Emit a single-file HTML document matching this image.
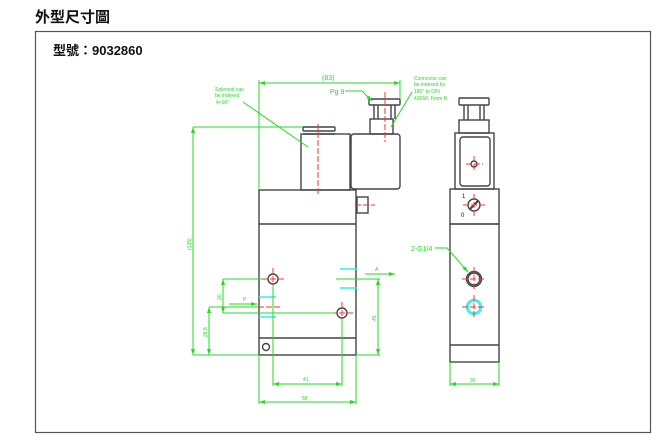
<!DOCTYPE html>
<html><head><meta charset="utf-8"><style>
body{margin:0;background:#fff;width:660px;height:437px;overflow:hidden;font-family:"Liberation Sans","Noto Sans CJK TC",sans-serif}
</style></head><body>
<svg width="660" height="437" xmlns="http://www.w3.org/2000/svg" style="position:absolute;left:0;top:0">
<defs>
<marker id="a" viewBox="0 0 6 4" refX="6" refY="2" markerWidth="6" markerHeight="4" orient="auto-start-reverse" markerUnits="userSpaceOnUse"><path d="M0,0L6,2L0,4z" fill="#2d2"/></marker>
</defs>
<text x="35" y="22" font-size="15" font-weight="bold" fill="#111" font-family="Liberation Sans,Noto Sans CJK TC,sans-serif">外型尺寸圖</text>
<rect x="35.5" y="31.5" width="615" height="401" fill="none" stroke="#555" stroke-width="1.2"/>
<text x="53" y="55" font-size="13" font-weight="bold" fill="#111" font-family="Liberation Sans,Noto Sans CJK TC,sans-serif">型號：9032860</text>

<g fill="none" stroke="#444" stroke-width="1.4">
<rect x="259" y="190" width="97" height="165"/>
<line x1="259" y1="224" x2="356" y2="224"/>
<line x1="259" y1="338" x2="356" y2="338"/>
<rect x="301" y="134" width="49" height="56"/>
<rect x="303" y="127" width="32" height="4" rx="1"/>
<line x1="303" y1="134" x2="335" y2="134"/>
<rect x="351" y="134" width="49" height="55" rx="3"/>
<rect x="370" y="119" width="23" height="15"/>
<rect x="369" y="99" width="31" height="6" rx="1"/>
<line x1="374" y1="105" x2="374" y2="119"/><line x1="378" y1="105" x2="378" y2="119"/>
<line x1="391" y1="105" x2="391" y2="119"/><line x1="395" y1="105" x2="395" y2="119"/>
<rect x="357" y="197" width="11" height="16"/>
<circle cx="273" cy="279" r="5"/>
<circle cx="342" cy="313" r="5"/>
<circle cx="266" cy="347" r="3.5"/>
<rect x="459" y="98" width="30" height="7" rx="1"/>
<line x1="464" y1="105" x2="464" y2="120"/><line x1="468" y1="105" x2="468" y2="120"/>
<line x1="480" y1="105" x2="480" y2="120"/><line x1="484" y1="105" x2="484" y2="120"/>
<rect x="459" y="120" width="30" height="13"/>
<rect x="455" y="133" width="39" height="56"/>
<rect x="460" y="137" width="30" height="49" rx="3"/>
<circle cx="474" cy="164" r="3"/>
<rect x="450" y="189" width="49" height="35"/>
<circle cx="474" cy="205" r="6"/>
<line x1="470" y1="209" x2="478" y2="201" stroke-width="2"/>
<rect x="450" y="224" width="49" height="138"/>
<line x1="450" y1="345" x2="499" y2="345"/>
<circle cx="474" cy="279" r="7.5"/><circle cx="474" cy="279" r="6"/>
</g>
<g fill="none" stroke="#3ee" stroke-width="1.4">
<circle cx="474" cy="307" r="7.5"/><circle cx="474" cy="307" r="6"/>
<line x1="259" y1="297" x2="276" y2="297"/><line x1="259" y1="317" x2="276" y2="317"/>
<line x1="340" y1="269" x2="357" y2="269"/><line x1="340" y1="288" x2="357" y2="288"/>
</g>
<g fill="none" stroke="#f33" stroke-width="1" stroke-dasharray="6,2">
<line x1="318" y1="124" x2="318" y2="196"/>
<line x1="385" y1="92" x2="385" y2="142"/>
<line x1="355" y1="205" x2="375" y2="205"/>
<line x1="262" y1="279" x2="285" y2="279"/><line x1="273" y1="268" x2="273" y2="290"/>
<line x1="331" y1="313" x2="353" y2="313"/><line x1="342" y1="302" x2="342" y2="324"/>
<line x1="258" y1="307" x2="280" y2="307"/>
<line x1="337" y1="279" x2="360" y2="279"/>
<line x1="466" y1="164" x2="483" y2="164"/><line x1="474" y1="156" x2="474" y2="172"/>
<line x1="463" y1="205" x2="486" y2="205"/><line x1="474" y1="194" x2="474" y2="216"/>
<line x1="462" y1="279" x2="486" y2="279"/><line x1="474" y1="267" x2="474" y2="291"/>
<line x1="462" y1="307" x2="486" y2="307"/><line x1="474" y1="295" x2="474" y2="319"/>
</g>
<g fill="none" stroke="#2d2" stroke-width="1">
<line x1="259" y1="83" x2="400" y2="83" marker-start="url(#a)" marker-end="url(#a)"/><line x1="259" y1="80" x2="259" y2="190"/><line x1="400" y1="80" x2="400" y2="99"/>
<line x1="193" y1="127" x2="303" y2="127"/><line x1="193" y1="127" x2="193" y2="355" marker-start="url(#a)" marker-end="url(#a)"/><line x1="193" y1="355" x2="259" y2="355"/>
<line x1="223" y1="279" x2="262" y2="279"/><line x1="223" y1="313" x2="334" y2="313"/><line x1="223" y1="279" x2="223" y2="313" marker-start="url(#a)" marker-end="url(#a)"/>
<line x1="209" y1="307" x2="258" y2="307"/><line x1="209" y1="307" x2="209" y2="355" marker-start="url(#a)" marker-end="url(#a)"/>
<line x1="336" y1="279" x2="380" y2="279"/><line x1="356" y1="355" x2="380" y2="355"/><line x1="378" y1="279" x2="378" y2="355" marker-start="url(#a)" marker-end="url(#a)"/>
<line x1="273" y1="285" x2="273" y2="386"/><line x1="342" y1="319" x2="342" y2="386"/><line x1="273" y1="384" x2="342" y2="384" marker-start="url(#a)" marker-end="url(#a)"/>
<line x1="259" y1="355" x2="259" y2="404"/><line x1="356" y1="355" x2="356" y2="404"/><line x1="259" y1="402" x2="356" y2="402" marker-start="url(#a)" marker-end="url(#a)"/>
<line x1="450" y1="362" x2="450" y2="386"/><line x1="499" y1="362" x2="499" y2="386"/><line x1="450" y1="384" x2="499" y2="384" marker-start="url(#a)" marker-end="url(#a)"/>
<line x1="229" y1="304" x2="257" y2="304" marker-end="url(#a)"/><line x1="365" y1="274" x2="395" y2="274" marker-end="url(#a)"/>
<polyline points="243,102 308,147"/>
<polyline points="345,91 362,91 372,101" marker-end="url(#a)"/>
<polyline points="412,92 391,127"/>
<polyline points="435,248 447,248 468,272" marker-end="url(#a)"/>
</g>
<g fill="#2d2" font-size="5" font-family="Liberation Sans,sans-serif">
<text x="322" y="80" font-size="7">(83)</text>
<text x="215" y="91">Solenoid can</text><text x="215" y="97">be indexed</text><text x="216" y="104">4×90°</text>
<text x="330" y="94" font-size="7">Pg 9</text>
<text x="414" y="80">Connector can</text><text x="414" y="86">be indexed by</text><text x="414" y="93">180° to DIN</text><text x="414" y="100">43650, From B</text>
<text x="411" y="251" font-size="7">2-G1/4</text>
<text x="243" y="301">P</text><text x="375" y="271">A</text>
<text x="303" y="381">41</text><text x="302" y="400">58</text><text x="470" y="382">30</text>
<text transform="translate(191,250) rotate(-90)">(135)</text>
<text transform="translate(221,300) rotate(-90)">20</text>
<text transform="translate(207,337) rotate(-90)">28.5</text>
<text transform="translate(376,321) rotate(-90)">45</text>
</g>
<g fill="#111" font-size="6"><text x="462" y="198">1</text><text x="461" y="217">0</text></g>
</svg>
</body></html>
